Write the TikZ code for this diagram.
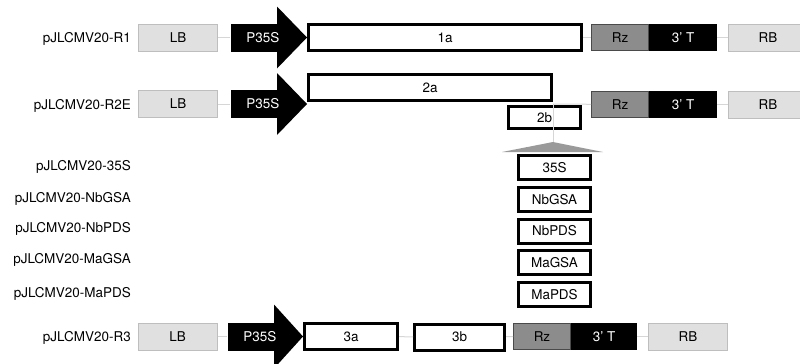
\documentclass[tikz,border=0pt]{standalone}
\usepackage{fontspec}
\setmainfont{TeX Gyre Heros}
\usetikzlibrary{positioning}

\definecolor{bordfill}{HTML}{E0E0E0}
\definecolor{bordedge}{HTML}{BEBEBE}
\definecolor{rzfill}{HTML}{8C8C8C}
\definecolor{rzedge}{HTML}{4A4A4A}
\definecolor{backbone}{HTML}{D6D6D6}
\definecolor{wedge}{HTML}{9A9A9A}

\tikzset{
  every node/.style={font=\fontsize{10.1}{12}\selectfont, inner sep=0pt},
  plabel/.style={anchor=east},
  bord/.style={draw=bordedge, fill=bordfill, line width=0.75pt,
               minimum width=59.25pt, minimum height=20.25pt},
  prom/.style={fill=black, text=white, minimum width=34.5pt, minimum height=21pt,
               text width=34.5pt, align=right},
  orf/.style={draw=black, fill=white, line width=2.25pt, minimum height=19.5pt},
  rzbox/.style={draw=rzedge, fill=rzfill, line width=0.75pt,
                minimum width=42.75pt, minimum height=19.5pt},
  term/.style={draw=black, fill=black, text=white, line width=0.75pt,
               minimum width=50.25pt, minimum height=19.5pt},
  link/.style={draw=backbone, line width=0.75pt}
}

\begin{document}
\begin{tikzpicture}[x=0.75pt, y=-0.75pt, node distance=0pt]
  \useasboundingbox (0,0) rectangle (800,364);

  % R1
  \node[plabel] (n1) at (131,39) {pJLCMV20-R1};
  \node[bord] (lb1) at (178,37.5) {LB};
  \coordinate (h1) at (277,37.5);
  \fill (h1) +(0,-31) -- +(30,0) -- +(0,31) -- cycle;
  \node[prom, left=of h1] (p1) {P35S\kern-2pt};
  \node[orf, minimum width=204.75pt] (o1a) at (445,37.5) {1a};
  \node[rzbox] (rz1) at (620,37.5) {Rz};
  \node[term, right=of rz1] (t1) {3' T};
  \node[bord] (rb1) at (768,37.5) {RB};
  \draw[link] (lb1) -- (p1);
  \draw[link] (o1a) -- (rz1);
  \draw[link] (t1) -- (rb1);

  % R2E
  \node[plabel] (n2) at (131,105.5) {pJLCMV20-R2E};
  \node[bord] (lb2) at (178,104) {LB};
  \coordinate (h2) at (277,104);
  \fill (h2) +(0,-31) -- +(30,0) -- +(0,31) -- cycle;
  \node[prom, left=of h2] (p2) {P35S\kern-2pt};
  \node[orf, minimum width=182.25pt] (o2a) at (430,87.5) {2a};
  \node[orf, minimum width=54pt, minimum height=16.5pt] (o2b) at (544.5,117.5) {2b};
  \node[rzbox] (rz2) at (620,104.5) {Rz};
  \node[term, right=of rz2] (t2) {3' T};
  \node[bord] (rb2) at (768,104.5) {RB};
  \coordinate (jn) at (553,104);
  \coordinate (apex) at (553,142);
  \draw[link] (lb2) -- (p2);
  \draw[link] (jn) -- (rz2);
  \draw[link] (t2) -- (rb2);
  \draw[link] (jn) -- (apex);
  \fill[wedge] (apex) -- (502,152) -- (603,152) -- cycle;

  % inserts
  \node[plabel] (n35) at (131,166.5) {pJLCMV20-35S};
  \node[plabel] (nng) at (131,198.5) {pJLCMV20-NbGSA};
  \node[plabel] (nnp) at (131,229) {pJLCMV20-NbPDS};
  \node[plabel] (nmg) at (131,260) {pJLCMV20-MaGSA};
  \node[plabel] (nmp) at (131,293.5) {pJLCMV20-MaPDS};
  \node[orf, minimum width=54pt, minimum height=18pt] (i35) at (554.5,167.5) {35S};
  \node[orf, minimum width=54pt, minimum height=18pt] (ing) at (554.5,199.5) {NbGSA};
  \node[orf, minimum width=54pt, minimum height=18pt] (inp) at (554.5,231) {NbPDS};
  \node[orf, minimum width=54pt, minimum height=18pt] (img) at (554.5,262.5) {MaGSA};
  \node[orf, minimum width=54pt, minimum height=18pt] (imp) at (554.5,294.5) {MaPDS};

  % R3
  \node[plabel] (n3) at (131,338) {pJLCMV20-R3};
  \node[bord] (lb3) at (177.5,336.5) {LB};
  \coordinate (h3) at (274,336.5);
  \fill (h3) +(0,-32) -- +(29,0) -- +(0,32) -- cycle;
  \node[prom, left=of h3] (p3) {P35S\kern-2pt};
  \node[orf, minimum width=69.75pt] (o3a) at (351,336.5) {3a};
  \node[orf, minimum width=67.5pt] (o3b) at (459.5,337) {3b};
  \node[rzbox] (rz3) at (542,336.5) {Rz};
  \node[term, minimum width=48.75pt, right=of rz3] (t3) {3' T};
  \node[bord] (rb3) at (688,336.5) {RB};
  \draw[link] (lb3) -- (p3);
  \draw[link] (o3a) -- (o3b);
  \draw[link] (o3b) -- (rz3);
  \draw[link] (t3) -- (rb3);
\end{tikzpicture}
\end{document}
